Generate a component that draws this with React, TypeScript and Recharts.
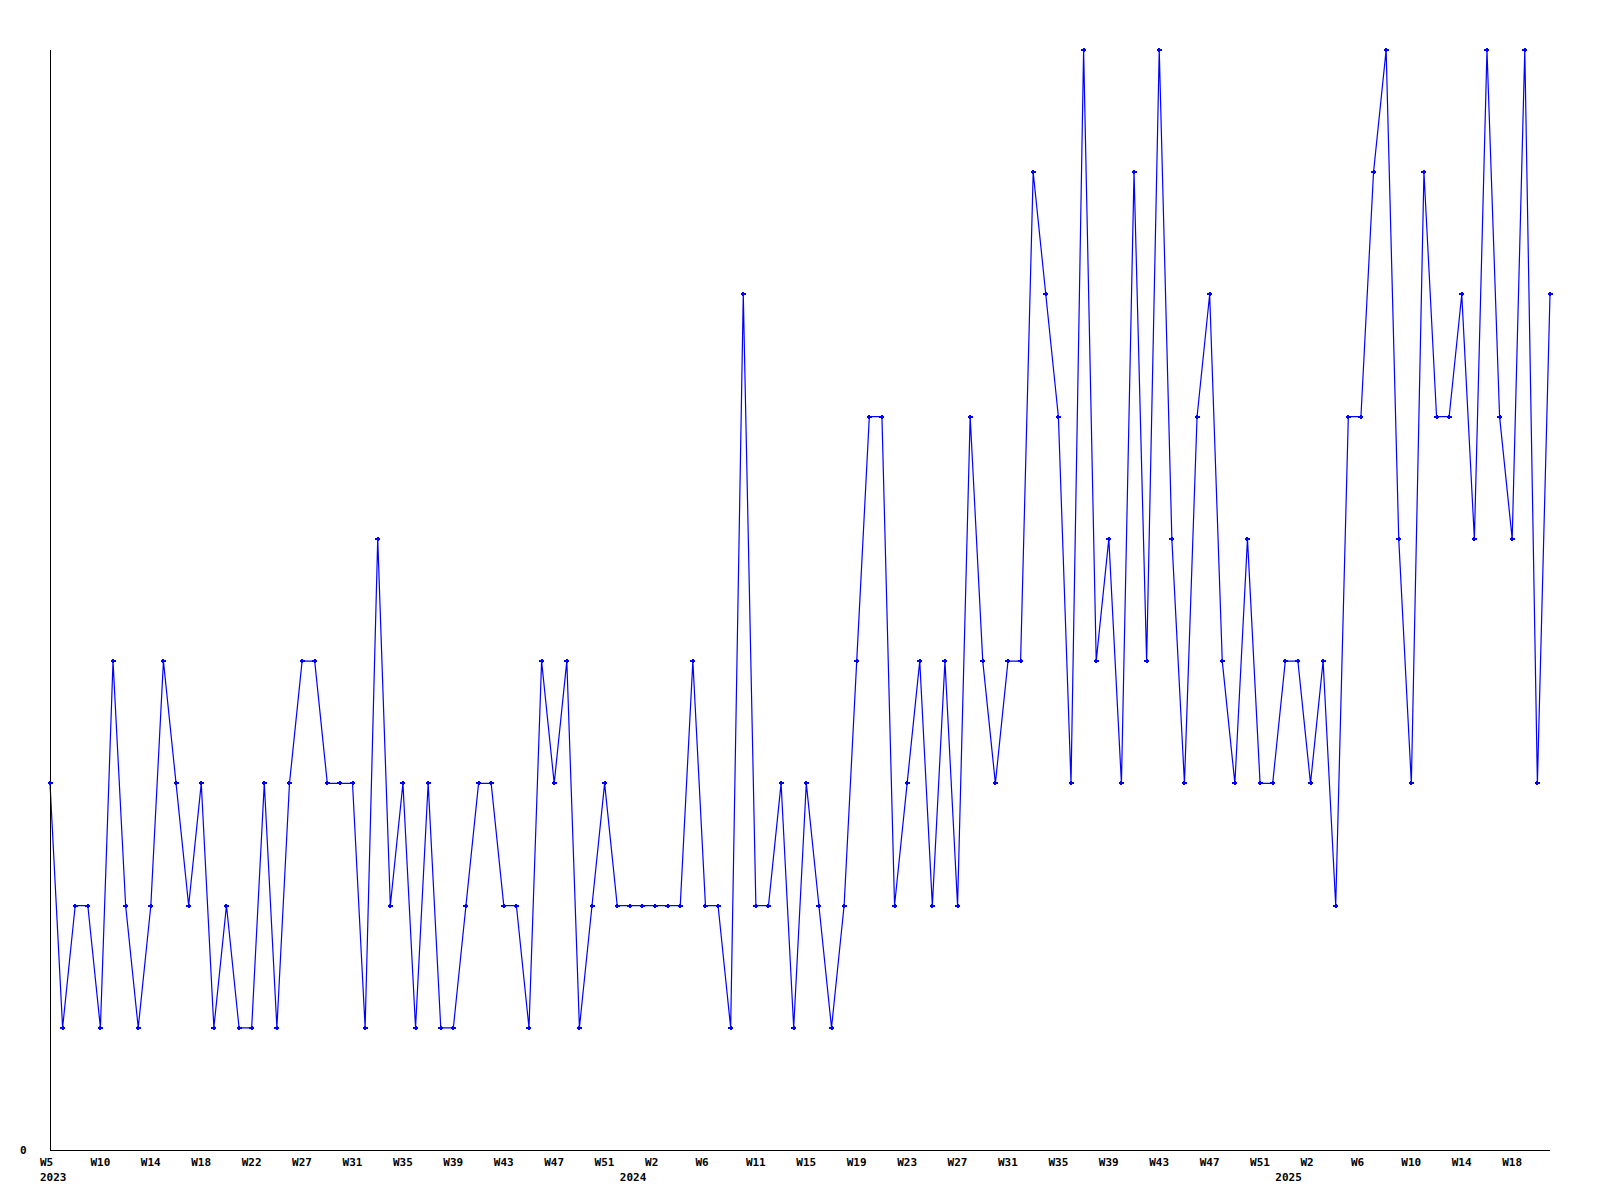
import React from "react";
import { LineChart, Line, XAxis, YAxis } from "recharts";

// weekly values (one per point, left to right)
const counts = [
  3, 1, 2, 2, 1, 4, 2, 1, 2, 4,
  3, 2, 3, 1, 2, 1, 1, 3, 1, 3,
  4, 4, 3, 3, 3, 1, 5, 2, 3, 1,
  3, 1, 1, 2, 3, 3, 2, 2, 1, 4,
  3, 4, 1, 2, 3, 2, 2, 2, 2, 2,
  2, 4, 2, 2, 1, 7, 2, 2, 3, 1,
  3, 2, 1, 2, 4, 6, 6, 2, 3, 4,
  2, 4, 2, 6, 4, 3, 4, 4, 8, 7,
  6, 3, 9, 4, 5, 3, 8, 4, 9, 5,
  3, 6, 7, 4, 3, 5, 3, 3, 4, 4,
  3, 4, 2, 6, 6, 8, 9, 5, 3, 8,
  6, 6, 7, 5, 9, 6, 5, 9, 3, 7,
];

// week labels, one every 4 points starting at the first
const weekLabels = [
  "W5", "W10", "W14", "W18", "W22", "W27", "W31", "W35", "W39", "W43",
  "W47", "W51", "W2", "W6", "W11", "W15", "W19", "W23", "W27", "W31",
  "W35", "W39", "W43", "W47", "W51", "W2", "W6", "W10", "W14", "W18",
];

// year labels and the point they sit under
const yearLabels = ["2023", "2024", "2025"];
const yearAt = [0, 46, 98];

const data = counts.map((v, i) => ({ i, v }));

const weekTicks = weekLabels.map((_, k) => k * 4);
const allTicks = Array.from(new Set([...weekTicks, ...yearAt])).sort(
  (a, b) => a - b
);

const FONT = "'DejaVu Sans Mono', 'Liberation Mono', monospace";

function WeekTick(props: any) {
  const { x, payload } = props;
  const idx = payload.value;
  const wk = idx % 4 === 0 ? weekLabels[idx / 4] : undefined;
  const yk = yearAt.indexOf(idx);
  return (
    <g>
      {wk && (
        <text
          x={x - 10}
          y={1166}
          textAnchor="start"
          fontFamily={FONT}
          fontWeight="bold"
          fontSize={11}
          fill="#000"
        >
          {wk}
        </text>
      )}
      {yk >= 0 && (
        <text
          x={x - 10}
          y={1181}
          textAnchor="start"
          fontFamily={FONT}
          fontWeight="bold"
          fontSize={11}
          fill="#000"
        >
          {yearLabels[yk]}
        </text>
      )}
    </g>
  );
}

function ZeroTick(props: any) {
  const { y, payload } = props;
  return (
    <text
      x={20}
      y={y + 4}
      textAnchor="start"
      fontFamily={FONT}
      fontWeight="bold"
      fontSize={11}
      fill="#000"
    >
      {payload.value}
    </text>
  );
}

// small "+" marker like the original
function PlusDot(props: any) {
  const { cx, cy } = props;
  if (cx == null || cy == null) return null;
  return (
    <g fill="#0000ff" shapeRendering="crispEdges">
      <rect x={cx - 2.5} y={cy - 1} width={5} height={2} />
      <rect x={cx - 1} y={cy - 2} width={2} height={4} />
    </g>
  );
}

export default function App() {
  return (
    <div style={{ position: "absolute", left: 0, top: 0, background: "#fff" }}>
      <LineChart
        width={1600}
        height={1200}
        data={data}
        margin={{ top: 50, right: 50, bottom: 0, left: 0 }}
      >
        <XAxis
          dataKey="i"
          type="number"
          domain={[0, 119]}
          ticks={allTicks}
          interval={0}
          height={50}
          tickLine={false}
          tickSize={0}
          tick={<WeekTick />}
          axisLine={{ stroke: "#000", strokeWidth: 1, shapeRendering: "crispEdges" }}
        />
        <YAxis
          domain={[0, 9]}
          ticks={[0]}
          width={50}
          tickLine={false}
          tick={<ZeroTick />}
          axisLine={{ stroke: "#000", strokeWidth: 1, shapeRendering: "crispEdges" }}
        />
        <Line
          type="linear"
          dataKey="v"
          stroke="#0000ff"
          strokeWidth={1.2}
          dot={<PlusDot />}
          activeDot={false}
          isAnimationActive={false}
        />
      </LineChart>
    </div>
  );
}
